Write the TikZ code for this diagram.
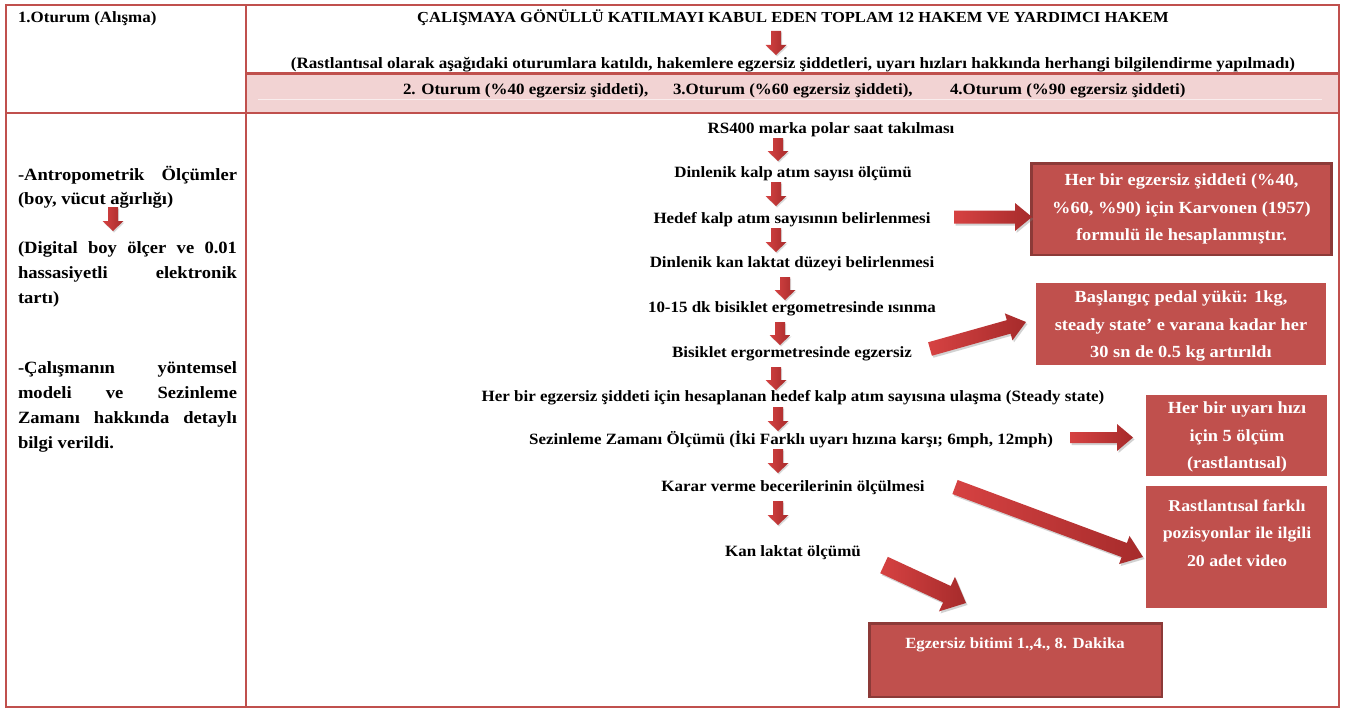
\documentclass[tikz,border=0pt]{standalone}
\usepackage{fontspec}
\setmainfont{Liberation Serif}[FakeStretch=1.08]
\usetikzlibrary{calc,shadows}
\definecolor{tblred}{HTML}{C0504D}
\definecolor{pinkrow}{HTML}{F2D3D3}
\definecolor{boxred}{HTML}{C0504D}
\definecolor{boxdark}{HTML}{8C3A38}
\definecolor{arrA}{HTML}{D64242}
\definecolor{arrB}{HTML}{A62B2B}
% block arrow: [style]{from}{to}{shaft half width}{head half width}{head length}
\newcommand\blockarr[6][]{%
  \coordinate (bah) at ($(#3)!#6!(#2)$);
  \path[#1] ($(#2)!#4!90:(#3)$) -- ($(bah)!#4!-90:(#2)$) -- ($(bah)!#5!-90:(#2)$) -- (#3)
     -- ($(bah)!#5!90:(#2)$) -- ($(bah)!#4!90:(#2)$) -- ($(#2)!#4!-90:(#3)$) -- cycle;}
\newcommand\smallarr[4]{% name, x, ytop, ybottom
  \coordinate (#1s) at (#2,#3);
  \coordinate (#1e) at (#2,#4);
  \blockarr[smallarrow]{#1s}{#1e}{5pt}{10.5pt}{10pt}}
\begin{document}
\begin{tikzpicture}[x=1pt,y=-1pt,
  every node/.style={inner sep=0pt, outer sep=0pt},
  txt/.style={font=\fontsize{15.7}{18}\selectfont\bfseries, anchor=base},
  txtl/.style={txt, anchor=base west},
  lefttxt/.style={font=\fontsize{17.2}{20}\selectfont\bfseries, anchor=base west},
  boxtxt/.style={font=\fontsize{17}{27.5}\selectfont\bfseries, text=white, align=center},
  tline/.style={draw=tblred, line width=2.5pt},
  smallarrow/.style={left color=arrA, right color=arrB,
     drop shadow={opacity=0.3, shadow xshift=1pt, shadow yshift=-1.5pt}},
  bigarrow/.style={left color=arrA, right color=arrB,
     drop shadow={opacity=0.35, shadow xshift=1.5pt, shadow yshift=-2pt}},
  darkbox/.style={draw=boxdark, line width=2.5pt, fill=boxred,
     drop shadow={opacity=0.3, shadow xshift=1pt, shadow yshift=-1.5pt}},
  whitebox/.style={draw=white, line width=3pt, fill=boxred,
     drop shadow={opacity=0.35, shadow xshift=0.8pt, shadow yshift=-1.5pt}}
]
\useasboundingbox (0,0) rectangle (1349,709);
\fill[white] (0,0) rectangle (1349,709);

% table
\fill[pinkrow] (246,74) rectangle (1339,113);
\draw[white, opacity=0.6, line width=0.8pt] (258,99) -- (1322,99);
\draw[tline] (6,5) rectangle (1339,707);
\draw[tline] (246,5) -- (246,707);
\draw[tline] (6,113) -- (1339,113);
\draw[tline, line width=3pt] (246,74) -- (1339,74);

% header texts
\node[txtl] (oturum1) at (18,23) {1.Oturum (Alışma)};
\node[txt, font=\fontsize{15.3}{18}\selectfont\bfseries] (title) at (793,23) {ÇALIŞMAYA GÖNÜLLÜ KATILMAYI KABUL EDEN TOPLAM 12 HAKEM VE YARDIMCI HAKEM};
\smallarr{t}{776}{31}{55}
\node[txt, font=\fontsize{15.8}{18}\selectfont\bfseries] (subtitle) at (793,68) {(Rastlantısal olarak aşağıdaki oturumlara katıldı, hakemlere egzersiz şiddetleri, uyarı hızları hakkında herhangi bilgilendirme yapılmadı)};
\node[txtl] (ot2) at (403,94) {2. Oturum (\%40 egzersiz şiddeti),};
\node[txtl] (ot3) at (673,94) {3.Oturum (\%60 egzersiz şiddeti),};
\node[txtl] (ot4) at (950,94) {4.Oturum (\%90 egzersiz şiddeti)};

% left column
\node[lefttxt] (L1) at (18,180) {\hbox to 219pt{-Antropometrik\hfill Ölçümler}};
\node[lefttxt] (L2) at (18,204) {(boy, vücut ağırlığı)};
\smallarr{l}{113}{207}{231}
\node[lefttxt] (L3) at (18,253) {\hbox to 219pt{(Digital\hfill boy\hfill ölçer\hfill ve\hfill 0.01}};
\node[lefttxt] (L4) at (18,278) {\hbox to 219pt{hassasiyetli\hfill elektronik}};
\node[lefttxt] (L5) at (18,303) {tartı)};
\node[lefttxt] (L6) at (18,373) {\hbox to 219pt{-Çalışmanın\hfill yöntemsel}};
\node[lefttxt] (L7) at (18,398) {\hbox to 219pt{modeli\hfill ve\hfill Sezinleme}};
\node[lefttxt] (L8) at (18,423) {\hbox to 219pt{Zamanı\hfill hakkında\hfill detaylı}};
\node[lefttxt] (L9) at (18,448) {bilgi verildi.};

% main flow
\node[txt] (s1) at (831,133) {RS400 marka polar saat takılması};
\smallarr{a1}{778}{138}{161}
\node[txt] (s2) at (793,177) {Dinlenik kalp atım sayısı ölçümü};
\smallarr{a2}{776}{182}{206}
\node[txt] (s3) at (792,223) {Hedef kalp atım sayısının belirlenmesi};
\smallarr{a3}{776}{228}{252}
\node[txt] (s4) at (792,267) {Dinlenik kan laktat düzeyi belirlenmesi};
\smallarr{a4}{785}{277}{300}
\node[txt] (s5) at (792,312) {10-15 dk bisiklet ergometresinde ısınma};
\smallarr{a5}{780}{322}{345}
\node[txt] (s6) at (792,357) {Bisiklet ergormetresinde egzersiz};
\smallarr{a6}{776}{367}{390}
\node[txt] (s7) at (793,401) {Her bir egzersiz şiddeti için hesaplanan hedef kalp atım sayısına ulaşma (Steady state)};
\smallarr{a7}{778}{407}{431}
\node[txt] (s8) at (791,444) {Sezinleme Zamanı Ölçümü (İki Farklı uyarı hızına karşı; 6mph, 12mph)};
\smallarr{a8}{778}{449}{473}
\node[txt] (s9) at (793,491) {Karar verme becerilerinin ölçülmesi};
\smallarr{a9}{778}{501}{525}
\node[txt] (s10) at (793,556) {Kan laktat ölçümü};

% right boxes
\node[darkbox, minimum width=300pt, minimum height=91.5pt] (bA) at (1181.5,209) {};
\node[boxtxt] (tA) at (1181.5,209) {Her bir egzersiz şiddeti (\%40,\\\%60, \%90) için Karvonen (1957)\\formulü ile hesaplanmıştır.};

\node[whitebox, minimum width=293pt, minimum height=85pt] (bB) at (1181,324) {};
\begin{scope}
\clip (1033,280) rectangle (1329,360);
\node[boxtxt] (tB) at (1181,326) {Başlangıç pedal yükü: 1kg,\\steady state’ e varana kadar her\\30 sn de 0.5 kg artırıldı};
\end{scope}

\node[whitebox, minimum width=184pt, minimum height=84pt] (bC) at (1236.5,435.5) {};
\node[boxtxt] (tC) at (1237,437) {Her bir uyarı hızı\\için 5 ölçüm\\(rastlantısal)};

\node[whitebox, minimum width=184pt, minimum height=125pt] (bD) at (1236.5,547) {};
\node[boxtxt, font=\fontsize{16.5}{27.5}\selectfont\bfseries] (tD) at (1237,533) {Rastlantısal farklı\\pozisyonlar ile ilgili\\20 adet video};

\node[darkbox, minimum width=292.5pt, minimum height=73.5pt] (bE) at (1015.5,660) {};
\node[boxtxt, font=\fontsize{15.5}{20}\selectfont\bfseries] (tE) at (1015,645) {Egzersiz bitimi 1.,4., 8. Dakika};

% big arrows
\coordinate (gAs) at (954,217);  \coordinate (gAe) at (1032,217);
\blockarr[bigarrow]{gAs}{gAe}{6.5pt}{14pt}{17pt}
\coordinate (gBs) at (930,349);  \coordinate (gBe) at (1026,322);
\blockarr[bigarrow]{gBs}{gBe}{7pt}{14pt}{18pt}
\coordinate (gCs) at (1070,437.5); \coordinate (gCe) at (1133,437.5);
\blockarr[bigarrow]{gCs}{gCe}{5.5pt}{13.5pt}{16pt}
\coordinate (gDs) at (955,487);  \coordinate (gDe) at (1143,557);
\blockarr[bigarrow]{gDs}{gDe}{7.5pt}{15pt}{20pt}
\coordinate (gEs) at (884,565);  \coordinate (gEe) at (966,603);
\blockarr[bigarrow]{gEs}{gEe}{9pt}{19pt}{21pt}
\end{tikzpicture}
\end{document}
